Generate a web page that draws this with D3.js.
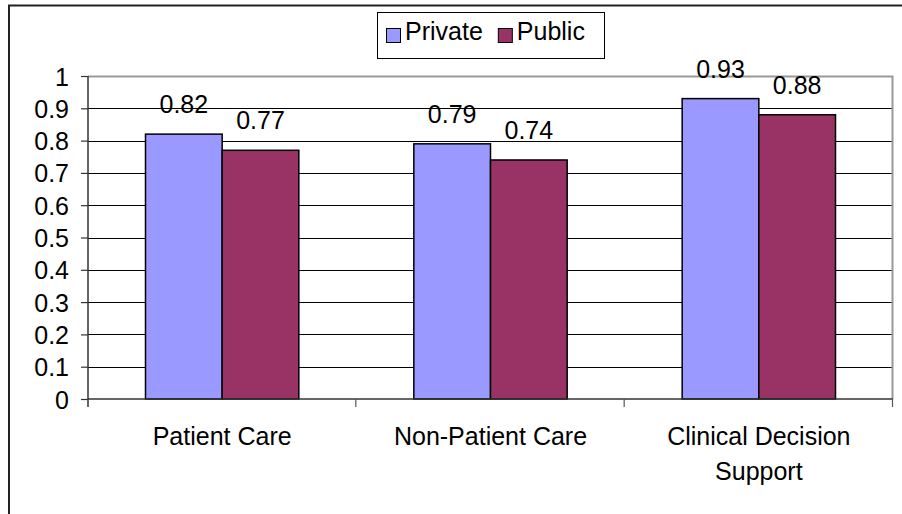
<!DOCTYPE html>
<html><head><meta charset="utf-8">
<script src="https://cdn.jsdelivr.net/npm/d3@7"></script>
<style>
html,body{margin:0;padding:0;background:#fff;overflow:hidden}
svg{display:block;font-family:"Liberation Sans",Arial,sans-serif}
</style></head>
<body>
<svg id="chart" width="902" height="514"></svg>
<script>
const categories = ["Patient Care", "Non-Patient Care", "Clinical Decision Support"];
const seriesNames = ["Private", "Public"];
const privateValues = [0.82, 0.79, 0.93];
const publicValues = [0.77, 0.74, 0.88];
const valueLabels = [["0.82", "0.79", "0.93"], ["0.77", "0.74", "0.88"]];
const yTicks = [0, 0.1, 0.2, 0.3, 0.4, 0.5, 0.6, 0.7, 0.8, 0.9, 1];
const yTickLabels = ["0", "0.1", "0.2", "0.3", "0.4", "0.5", "0.6", "0.7", "0.8", "0.9", "1"];
const colors = ["#9999FF", "#993366"];

const svg = d3.select("#chart");
const FS = 25;
const plot = {left: 88, right: 893, top: 76, bottom: 399};

// outer frame (extends beyond the picture on right and bottom)
svg.append("rect").attr("x", 9).attr("y", 5.5).attr("width", 950).attr("height", 600)
  .attr("fill", "none").attr("stroke", "#222").attr("stroke-width", 2);

const y = d3.scaleLinear().domain([0, 1]).range([plot.bottom, plot.top]);
const x0 = d3.scaleBand().domain(categories).range([plot.left, plot.right]).paddingInner(0).paddingOuter(0);
const x1 = d3.scaleBand().domain(seriesNames).range([0, x0.bandwidth()]).paddingInner(0).paddingOuter(0.75);

// gridlines
svg.append("g").selectAll("line").data(yTicks.filter(v => v > 0 && v < 1)).join("line")
  .attr("x1", plot.left).attr("x2", plot.right)
  .attr("y1", d => Math.round(y(d)) + 0.5).attr("y2", d => Math.round(y(d)) + 0.5)
  .attr("stroke", "#000").attr("stroke-width", 1);

// plot border top & right (gray)
svg.append("path")
  .attr("d", `M${plot.left},${y(1) + 0.5}H${plot.right - 0.5}V${plot.bottom}`)
  .attr("fill", "none").attr("stroke", "#999").attr("stroke-width", 2);

// bars
const seriesValues = [privateValues, publicValues];
const gBars = svg.append("g");
seriesNames.forEach((s, si) => {
  gBars.selectAll(null).data(categories).join("rect")
    .attr("x", c => x0(c) + x1(s))
    .attr("y", (c, i) => y(seriesValues[si][i]))
    .attr("width", x1.bandwidth())
    .attr("height", (c, i) => y(0) - y(seriesValues[si][i]))
    .attr("fill", colors[si]).attr("stroke", "#000").attr("stroke-width", 1.5);
  gBars.selectAll(null).data(categories).join("text")
    .attr("x", c => x0(c) + x1(s) + x1.bandwidth() / 2)
    .attr("y", (c, i) => y(seriesValues[si][i]) - 21)
    .attr("text-anchor", "middle").attr("font-size", FS).attr("fill", "#000")
    .text((c, i) => valueLabels[si][i]);
});

// y axis
const yAxis = d3.axisLeft(y).tickValues(yTicks).tickSize(7).tickPadding(12)
  .tickFormat((d, i) => yTickLabels[i]);
const gy = svg.append("g").attr("transform", `translate(${plot.left},0)`).call(yAxis);
gy.select(".domain").remove();
gy.selectAll(".tick line").attr("stroke", "#333").attr("stroke-width", 1.2);
gy.selectAll(".tick text").attr("font-size", FS).attr("font-family", "Liberation Sans, Arial, sans-serif")
  .attr("fill", "#000").attr("dy", "0.36em");
svg.append("line").attr("x1", plot.left).attr("x2", plot.left).attr("y1", plot.top).attr("y2", plot.bottom + 8)
  .attr("stroke", "#333").attr("stroke-width", 1.5);

// x axis line & category boundary ticks
svg.append("line").attr("x1", plot.left).attr("x2", plot.right).attr("y1", plot.bottom).attr("y2", plot.bottom)
  .attr("stroke", "#333").attr("stroke-width", 1.5);
const bounds = categories.map(c => x0(c)).concat([x0.range()[1]]);
svg.append("g").selectAll("line").data(bounds.slice(1)).join("line")
  .attr("x1", d => d - 0.5).attr("x2", d => d - 0.5).attr("y1", plot.bottom).attr("y2", plot.bottom + 8)
  .attr("stroke", "#555").attr("stroke-width", 1.2);

// category labels with wrapping
const gx = svg.append("g");
categories.forEach(c => {
  const t = gx.append("text").attr("x", x0(c) + x0.bandwidth() / 2).attr("y", 445)
    .attr("text-anchor", "middle").attr("font-size", FS).attr("fill", "#000");
  const words = c.split(" ");
  let line = [], lineNo = 0;
  let ts = t.append("tspan").attr("x", x0(c) + x0.bandwidth() / 2).attr("dy", 0);
  words.forEach(w => {
    line.push(w);
    ts.text(line.join(" "));
    if (ts.node().getComputedTextLength() > x0.bandwidth() * 0.9 && line.length > 1) {
      line.pop(); ts.text(line.join(" "));
      line = [w]; lineNo++;
      ts = t.append("tspan").attr("x", x0(c) + x0.bandwidth() / 2).attr("dy", 35).text(w);
    }
  });
});

// legend
const lg = svg.append("g");
lg.append("rect").attr("x", 377.5).attr("y", 12.5).attr("width", 227).attr("height", 46)
  .attr("fill", "#fff").attr("stroke", "#000").attr("stroke-width", 1);
let lx = 386;
seriesNames.forEach((s, i) => {
  lg.append("rect").attr("x", lx + 0.5).attr("y", 28.5).attr("width", 14).attr("height", 14)
    .attr("fill", colors[i]).attr("stroke", "#000").attr("stroke-width", 1);
  const t = lg.append("text").attr("x", lx + 19).attr("y", 40).attr("font-size", FS).attr("fill", "#000").text(s);
  lx += 19 + t.node().getComputedTextLength() + 15;
});
</script>
</body></html>
